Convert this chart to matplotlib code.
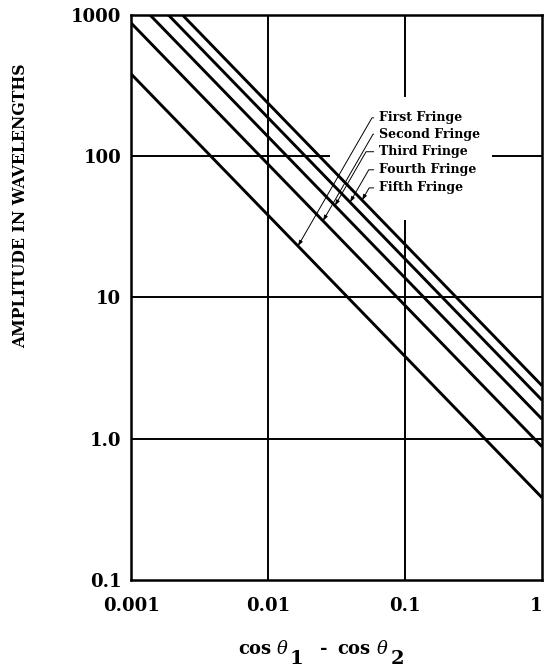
import matplotlib
matplotlib.use("Agg")
import matplotlib.pyplot as plt
from matplotlib.patches import Rectangle

# ---- data ----
cos_diff_ends = [0.001, 1.0]
first_fringe = [383, 0.383]
second_fringe = [879, 0.879]
third_fringe = [1377, 1.377]
fourth_fringe = [1876, 1.876]
fifth_fringe = [2376, 2.376]
fringe_names = ["First Fringe", "Second Fringe", "Third Fringe", "Fourth Fringe", "Fifth Fringe"]
fringe_series = [first_fringe, second_fringe, third_fringe, fourth_fringe, fifth_fringe]
# x positions (cos diff) where the leader arrows touch each line
leader_x = [0.01655, 0.0252, 0.0308, 0.0397, 0.0486]

x_ticks = [0.001, 0.01, 0.1, 1]
x_ticklabels = ["0.001", "0.01", "0.1", "1"]
y_ticks = [0.1, 1, 10, 100, 1000]
y_ticklabels = ["0.1", "1.0", "10", "100", "1000"]

plt.rcParams['font.family'] = ['DejaVu Serif']
plt.rcParams['mathtext.fontset'] = 'dejavuserif'

W, H = 545, 670
fig = plt.figure(figsize=(W/100, H/100), dpi=100)
ax = fig.add_axes([131/W, 1-580/H, 411/W, 565/H])
ax.set_xscale('log')
ax.set_yscale('log')
ax.set_xlim(0.001, 1)
ax.set_ylim(0.1, 1000)

# grid
for xv in x_ticks[1:-1]:
    ax.axvline(xv, color='black', lw=1.4, zorder=1)
for yv in y_ticks[1:-1]:
    ax.axhline(yv, color='black', lw=1.4, zorder=1)
ax.minorticks_off()

# white area behind the labels interrupting the grid
ax.add_patch(Rectangle((0.0284, 35.2), 0.43 - 0.0284, 263 - 35.2,
                       facecolor='white', edgecolor='none', zorder=2))

for ser in fringe_series:
    ax.plot(cos_diff_ends, ser, color='black', lw=2.1, zorder=3, solid_capstyle='butt')

text_y = [0.818, 0.789, 0.758, 0.726, 0.694]
for name, ser, lx, ty in zip(fringe_names, fringe_series, leader_x, text_y):
    target_y = ser[0] * cos_diff_ends[0] / lx
    ax.annotate(name, xy=(lx, target_y), xycoords='data',
                xytext=(0.604, ty), textcoords='axes fraction',
                ha='left', va='center', fontsize=9, fontweight='bold',
                zorder=4,
                arrowprops=dict(arrowstyle='-|>,head_length=0.35,head_width=0.12',
                                color='black', lw=0.7, shrinkA=2, shrinkB=0,
                                relpos=(0, 0.5),
                                connectionstyle='angle,angleA=180,angleB=60,rad=0'))

ax.set_xticks(x_ticks)
ax.set_xticklabels(x_ticklabels, fontsize=13, fontweight='bold')
ax.get_xticklabels()[-1].set_horizontalalignment('right')
ax.set_yticks(y_ticks)
ax.set_yticklabels(y_ticklabels, fontsize=13, fontweight='bold')
ax.tick_params(axis='both', length=0)
ax.tick_params(axis='x', pad=12)
ax.tick_params(axis='y', pad=7)
for sp in ax.spines.values():
    sp.set_linewidth(1.8)

# x-axis label built from pieces (large lowered subscripts)
base = 1 - 654/H
sub = 1 - 664/H
kw = dict(fontsize=13, fontweight='bold', va='baseline', ha='left')
kws = dict(fontsize=14, fontweight='bold', va='baseline', ha='left')
fig.text(238/W, base, 'cos', **kw)
fig.text(276/W, base, r'$\theta$', **kw)
fig.text(290/W, sub, '1', **kws)
fig.text(320/W, base, '-', **kw)
fig.text(337/W, base, 'cos', **kw)
fig.text(376/W, base, r'$\theta$', **kw)
fig.text(391/W, sub, '2', **kws)

fig.text(21/W, 1-206/H, 'AMPLITUDE IN WAVELENGTHS', rotation=90,
         ha='center', va='center', fontsize=11.3, fontweight='bold')

fig.savefig('out.png', dpi=100)
